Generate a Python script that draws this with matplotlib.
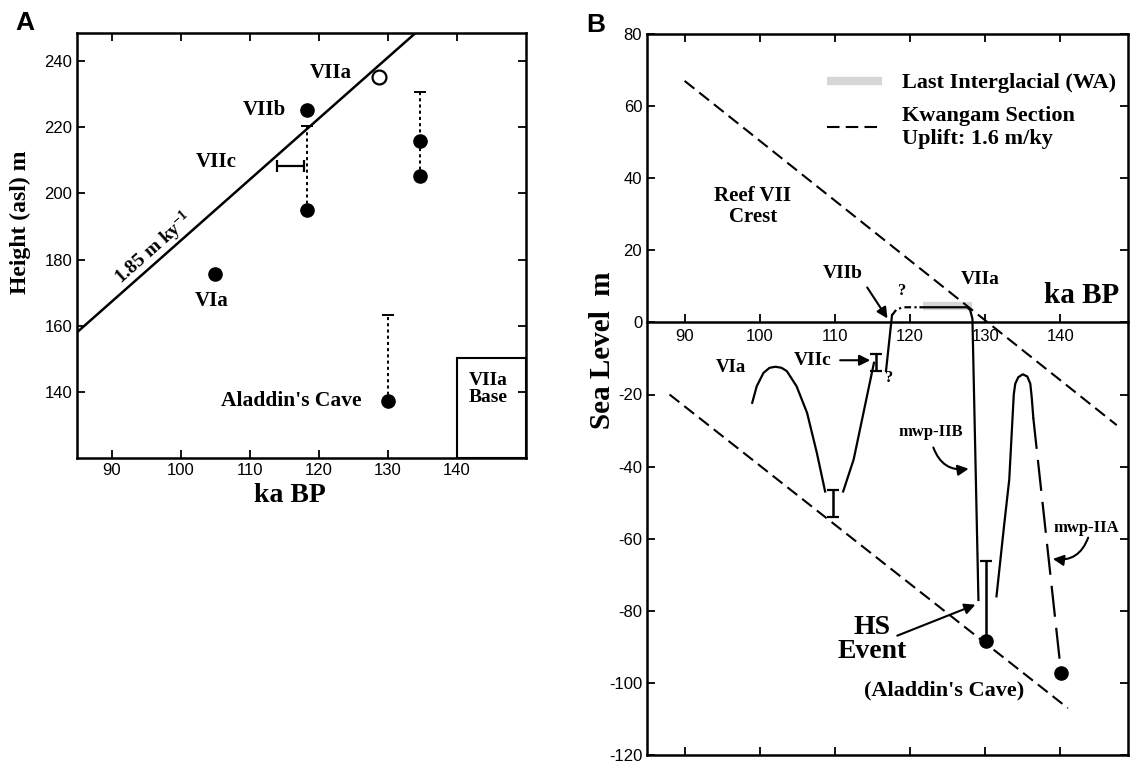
import numpy as np
import matplotlib.pyplot as plt
from matplotlib.lines import Line2D
from matplotlib.patches import Rectangle

plt.rcParams['font.family'] = ['Liberation Sans', 'DejaVu Sans']
plt.rcParams['axes.unicode_minus'] = False
plt.rcParams['mathtext.fontset'] = 'custom'
plt.rcParams['mathtext.rm'] = 'Liberation Serif:bold'
plt.rcParams['mathtext.it'] = 'Liberation Serif:bold'
plt.rcParams['mathtext.bf'] = 'Liberation Serif:bold'

SERIF = 'Liberation Serif'

# ---------------- panel A : terrace heights (ka BP, m asl)
uplift_x = [85, 134]
uplift_y = [158, 248.5]          # 1.85 m/ky trend

dots_x = [105.0, 118.3, 118.3, 134.6, 134.6, 130.0]
dots_y = [175.7, 225.2, 195.1, 215.7, 205.2, 137.1]

viia_open_x = [128.7]
viia_open_y = [235.2]

# dotted height ranges (low point -> upper cap)
rng_x = [118.3, 134.6, 130.0]
rng_lo = [195.1, 205.2, 137.1]
rng_hi = [220.4, 230.8, 163.2]

# VIIc age range
viic_age_lo, viic_age_hi, viic_h = 113.9, 117.8, 208.4

# VIIa base box
base_x0, base_x1, base_top = 140, 150, 150.2

# ---------------- panel B : sea level (ka BP, m)
kw_up_x = [90.0, 147.5]
kw_up_y = [67.0, -28.5]
kw_lo_x = [88.0, 141.0]
kw_lo_y = [-20.0, -107.0]

wa_x = [121.7, 128.3]
wa_y = [4.6, 4.6]

via_x = [99.0, 99.6, 100.5, 101.3, 102.1, 102.9, 103.6, 104.9, 106.3, 107.6, 108.7]
via_y = [-22.3, -17.7, -14.0, -12.6, -12.3, -12.6, -13.5, -17.7, -25.1, -36.2, -46.9]

rise_x = [111.1, 112.5, 113.8, 115.2]
rise_y = [-46.9, -38.0, -25.1, -11.2]

viib_x = [116.8, 117.6]
viib_y = [-13.5, 2.0]

gap_x = [117.6, 118.2, 119.1, 121.4]
gap_y = [2.0, 3.6, 4.2, 4.2]

viia_x = [121.4, 127.6, 128.0, 128.3, 129.1]
viia_y = [4.2, 4.2, 3.4, 1.0, -77.0]

hump_x = [131.5, 132.5, 133.2, 133.8, 134.0, 134.4, 135.0, 135.6, 136.0, 136.2, 136.4]
hump_y = [-76.0, -56.6, -43.6, -20.0, -17.0, -15.2, -14.4, -15.0, -17.0, -21.0, -26.5]

mwpiia_x = [136.4, 140.1]
mwpiia_y = [-26.5, -97.3]

b_dots_x = [130.1, 140.1]
b_dots_y = [-88.5, -97.3]

eb_x = [109.8, 115.5]
eb_y = [-50.2, -11.2]
eb_err = [3.8, 2.3]

hs_x, hs_lo, hs_hi = 130.1, -88.5, -66.3

fig = plt.figure(figsize=(11.39, 7.67), dpi=100)

axA = fig.add_axes([77 / 1139, 1 - 458 / 767, 449 / 1139, 425 / 767])
axB = fig.add_axes([647 / 1139, 1 - 755 / 767, 481 / 1139, 721 / 767])

tick_kw = dict(direction='in', length=6, width=1.3, labelsize=12)

# ================= A
axA.plot(uplift_x, uplift_y, color='k', lw=1.8, zorder=2)
eb = axA.errorbar(rng_x, rng_lo, yerr=[np.zeros(len(rng_x)), np.array(rng_hi) - np.array(rng_lo)],
                  fmt='none', ecolor='k', elinewidth=1.4, capsize=4, capthick=1.4, zorder=2)
eb[2][0].set_linestyle((0, (1.6, 1.6)))
axA.errorbar([(viic_age_lo + viic_age_hi) / 2], [viic_h], xerr=[(viic_age_hi - viic_age_lo) / 2],
             fmt='none', ecolor='k', elinewidth=1.6, capsize=4, capthick=1.6)
axA.plot(dots_x, dots_y, 'o', color='k', ms=9.5, zorder=3)
axA.plot(viia_open_x, viia_open_y, 'o', mfc='white', mec='k', mew=1.6, ms=10, zorder=3)
axA.add_patch(Rectangle((base_x0, 120), base_x1 - base_x0, base_top - 120,
                        fill=False, ec='k', lw=1.5, zorder=1))

axA.set_xlim(85, 150)
axA.set_ylim(120, 248.5)
axA.set_xticks([90, 100, 110, 120, 130, 140])
axA.set_yticks([140, 160, 180, 200, 220, 240])
axA.tick_params(top=True, right=True, **tick_kw)
for s in axA.spines.values():
    s.set_linewidth(1.8)

lbl = dict(family=SERIF, weight='bold', color='k')
axA.text(121.7, 236.5, 'VIIa', fontsize=15, ha='center', va='center', **lbl)
axA.text(112.2, 225.2, 'VIIb', fontsize=15, ha='center', va='center', **lbl)
axA.text(105.2, 209.5, 'VIIc', fontsize=15, ha='center', va='center', **lbl)
axA.text(104.5, 167.4, 'VIa', fontsize=15, ha='center', va='center', **lbl)
axA.text(126.2, 137.1, "Aladdin's Cave", fontsize=15.5, ha='right', va='center', **lbl)
axA.text(144.5, 141.0, 'VIIa\nBase', fontsize=14, ha='center', va='center', linespacing=1.0, **lbl)
axA.text(96.1, 183.5, r'1.85 m ky$^{-1}$', fontsize=14, rotation=41.6,
         ha='center', va='center', rotation_mode='anchor', **lbl)

fig.text(20 / 1139, 1 - 222 / 767, 'Height (asl) m', rotation=90, fontsize=17,
         ha='center', va='center', **lbl)
fig.text(290 / 1139, 1 - 496 / 767, 'ka BP', fontsize=20, ha='center', va='center', **lbl)
fig.text(25 / 1139, 1 - 23 / 767, 'A', fontsize=19, weight='bold', ha='center', va='center')

# ================= B
axB.plot(wa_x, wa_y, color='#d6d6d6', lw=6, solid_capstyle='butt', zorder=1)
axB.plot(kw_up_x, kw_up_y, color='k', lw=1.5, ls=(0, (6, 3)), zorder=2)
axB.plot(kw_lo_x, kw_lo_y, color='k', lw=1.5, ls=(0, (6, 3)), zorder=2)
for xs, ys in [(via_x, via_y), (rise_x, rise_y), (viib_x, viib_y), (viia_x, viia_y), (hump_x, hump_y)]:
    axB.plot(xs, ys, color='k', lw=1.6, zorder=3)
axB.plot(gap_x, gap_y, color='k', lw=1.6, ls=(0, (3, 1.5, 1, 1.5)), zorder=3)
axB.plot(mwpiia_x, mwpiia_y, color='k', lw=1.6, ls=(0, (14, 5)), zorder=3)
axB.errorbar(eb_x, eb_y, yerr=eb_err, fmt='none', ecolor='k', elinewidth=1.8, capsize=4, capthick=1.6)
axB.errorbar([hs_x], [hs_lo], yerr=[[0], [hs_hi - hs_lo]], fmt='none', ecolor='k',
             elinewidth=1.8, capsize=4, capthick=1.6)
axB.plot(b_dots_x, b_dots_y, 'o', color='k', ms=9.5, zorder=4)

axB.set_xlim(85, 149)
axB.set_ylim(-120, 80)
axB.set_xticks([90, 100, 110, 120, 130, 140])
axB.set_yticks(np.arange(-120, 81, 20))
axB.spines['bottom'].set_position(('data', 0))
axB.tick_params(top=True, right=True, **tick_kw)
axB.tick_params(axis='x', pad=5)
for s in axB.spines.values():
    s.set_linewidth(1.8)
frame = axB.secondary_xaxis('bottom')
frame.set_xticks([90, 100, 110, 120, 130, 140])
frame.tick_params(direction='in', length=6, width=1.3, labelbottom=False)
frame.spines['bottom'].set_linewidth(1.8)

axB.text(99.1, 32.2, 'Reef VII\nCrest', fontsize=15, ha='center', va='center', linespacing=1.05, **lbl)
axB.text(111.0, 13.6, 'VIIb', fontsize=14, ha='center', va='center', **lbl)
axB.text(119.0, 8.6, '?', fontsize=12, ha='center', va='center', **lbl)
axB.text(117.2, -15.5, '?', fontsize=12, ha='center', va='center', **lbl)
axB.text(129.4, 12.0, 'VIIa', fontsize=14, ha='center', va='center', **lbl)
axB.text(142.8, 7.4, 'ka BP', fontsize=21, ha='center', va='center', **lbl)
axB.text(96.1, -12.5, 'VIa', fontsize=13.5, ha='center', va='center', **lbl)
axB.text(107.1, -10.6, 'VIIc', fontsize=14, ha='center', va='center', **lbl)
axB.text(122.7, -30.3, 'mwp-IIB', fontsize=12, ha='center', va='center', **lbl)
axB.text(143.4, -56.9, 'mwp-IIA', fontsize=12, ha='center', va='center', **lbl)
axB.text(114.9, -88.0, 'HS\nEvent', fontsize=20, ha='center', va='center', linespacing=0.95, **lbl)
axB.text(124.5, -102.0, "(Aladdin's Cave)", fontsize=16, ha='center', va='center', **lbl)

arr = dict(arrowstyle='-|>', color='k', lw=1.5, mutation_scale=16, shrinkA=0, shrinkB=0)
axB.annotate('', xy=(117.0, 1.1), xytext=(114.3, 9.7), arrowprops=arr)
axB.annotate('', xy=(114.7, -10.5), xytext=(110.7, -10.5), arrowprops=arr)
axB.annotate('', xy=(128.7, -78.3), xytext=(118.3, -86.9), arrowprops=arr)
axB.annotate('', xy=(127.8, -40.6), xytext=(123.1, -34.7),
             arrowprops=dict(arr, connectionstyle='arc3,rad=0.4'))
axB.annotate('', xy=(139.0, -65.6), xytext=(143.7, -59.7),
             arrowprops=dict(arr, connectionstyle='arc3,rad=-0.4'))

handles = [Line2D([], [], color='#d6d6d6', lw=6, solid_capstyle='butt'),
           Line2D([], [], color='k', lw=1.5, ls=(0, (6, 3)))]
axB.legend(handles, ['Last Interglacial (WA)', 'Kwangam Section\nUplift: 1.6 m/ky'],
           loc='upper left', bbox_to_anchor=(0.374, 0.946), frameon=False,
           borderpad=0, borderaxespad=0, handlelength=2.5, handletextpad=0.9,
           labelspacing=0.55, prop=dict(family=SERIF, weight='bold', size=16))

fig.text(602 / 1139, 1 - 350 / 767, 'Sea Level  m', rotation=90, fontsize=21,
         ha='center', va='center', **lbl)
fig.text(596 / 1139, 1 - 25 / 767, 'B', fontsize=19, weight='bold', ha='center', va='center')

fig.savefig('out.png', dpi=100)
